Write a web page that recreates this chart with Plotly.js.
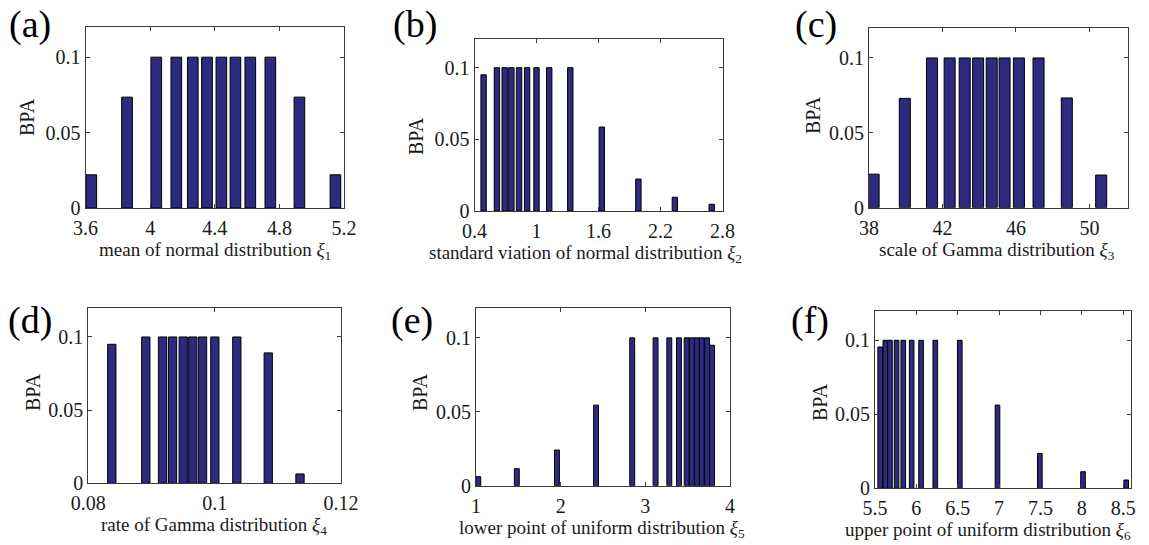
<!DOCTYPE html>
<html>
<head>
<meta charset="utf-8">
<script src="https://cdn.plot.ly/plotly-3.0.1.min.js"></script>
<style>
  html, body { margin: 0; padding: 0; background: #ffffff; }
  #chart { width: 1149px; height: 545px; }
</style>
</head>
<body>
<div id="chart"></div>
<script>
// BPA of the focal elements for each uncertain parameter

// (a) mean of normal distribution xi_1
const xiMean  = [3.636, 3.857, 4.038, 4.162, 4.264, 4.352, 4.441, 4.528, 4.620, 4.744, 4.924, 5.147];
const bpaMean = [0.022, 0.0735, 0.1, 0.1, 0.1, 0.1, 0.1, 0.1, 0.1, 0.1, 0.0735, 0.022];
const ticksMean = [3.6, 4, 4.4, 4.8, 5.2];
const labelsMean = ["3.6", "4", "4.4", "4.8", "5.2"];

// (b) standard deviation of normal distribution xi_2
const xiStd  = [0.488, 0.617, 0.692, 0.757, 0.831, 0.909, 1.000, 1.123, 1.327, 1.632, 1.986, 2.339, 2.696];
const bpaStd = [0.095, 0.1, 0.1, 0.1, 0.1, 0.1, 0.1, 0.1, 0.1, 0.0586, 0.0223, 0.0096, 0.0047];
const ticksStd = [0.4, 1, 1.6, 2.2, 2.8];
const labelsStd = ["0.4", "1", "1.6", "2.2", "2.8"];

// (c) scale of Gamma distribution xi_3
const xiScale  = [38.25, 39.95, 41.43, 42.39, 43.21, 43.94, 44.68, 45.38, 46.16, 47.23, 48.77, 50.64];
const bpaScale = [0.0224, 0.073, 0.1, 0.1, 0.1, 0.1, 0.1, 0.1, 0.1, 0.1, 0.0733, 0.0218];
const ticksScale = [38, 42, 46, 50];
const labelsScale = ["38", "42", "46", "50"];

// (d) rate of Gamma distribution xi_4
const xiRate  = [0.08372, 0.08910, 0.09175, 0.09333, 0.09502, 0.09654, 0.09808, 0.10003, 0.10351, 0.10848, 0.11351];
const bpaRate = [0.095, 0.1, 0.1, 0.1, 0.1, 0.1, 0.1, 0.1, 0.1, 0.0891, 0.0064];
const ticksRate = [0.08, 0.1, 0.12];
const labelsRate = ["0.08", "0.1", "0.12"];

// (e) lower point of uniform distribution xi_5
const xiLower  = [1.027, 1.482, 1.956, 2.418, 2.845, 3.121, 3.283, 3.397, 3.488, 3.551, 3.610, 3.666, 3.729, 3.788];
const bpaLower = [0.0061, 0.0115, 0.0241, 0.0545, 0.1, 0.1, 0.1, 0.1, 0.1, 0.1, 0.1, 0.1, 0.1, 0.095];
const ticksLower = [1, 2, 3, 4];
const labelsLower = ["1", "2", "3", "4"];

// (f) upper point of uniform distribution xi_6
const xiUpper  = [5.563, 5.625, 5.681, 5.761, 5.842, 5.943, 6.057, 6.229, 6.525, 6.981, 7.493, 8.015, 8.537];
const bpaUpper = [0.0955, 0.1, 0.1, 0.1, 0.1, 0.1, 0.1, 0.1, 0.1, 0.0562, 0.0236, 0.0112, 0.0056];
const ticksUpper = [5.5, 6, 6.5, 7, 7.5, 8, 8.5];
const labelsUpper = ["5.5", "6", "6.5", "7", "7.5", "8", "8.5"];

// shared y axis ticks
const bpaTicks = [0, 0.05, 0.1];
const bpaLabels = ["0", "0.05", "0.1"];

const W = 1149, H = 545;
const px = v => v / W;
const py = v => 1 - v / H;

const SERIF = "Liberation Serif, Times New Roman, serif";
const BAR_FILL = "#2d2a80";

// panel geometry in pixels: plot box [left, right, top, bottom], bar width (data units),
// x range, axis-title and panel-letter positions
const panels = [
  { x: xiMean,  y: bpaMean,  tv: ticksMean,  tt: labelsMean,  box: [85.5, 344, 27, 208],     range: [3.6, 5.2],   bw: 0.066,
    title: "mean of normal distribution <i>ξ</i><sub>1</sub>", tx: 215, yx: 27, yy: 117, tag: "(a)", gx: 30, gy: 25 },
  { x: xiStd,   y: bpaStd,   tv: ticksStd,   tt: labelsStd,   box: [474.5, 722.5, 39, 211],  range: [0.4, 2.8],   bw: 0.052,
    title: "standard viation of normal distribution <i>ξ</i><sub>2</sub>", tx: 585, yx: 416, yy: 136, tag: "(b)", gx: 415, gy: 25 },
  { x: xiScale, y: bpaScale, tv: ticksScale, tt: labelsScale, box: [869, 1128, 28, 207.7],   range: [38, 52.1],   bw: 0.6,
    title: "scale of Gamma distribution <i>ξ</i><sub>3</sub>", tx: 997, yx: 813, yy: 115, tag: "(c)", gx: 816, gy: 25 },
  { x: xiRate,  y: bpaRate,  tv: ticksRate,  tt: labelsRate,  box: [88.3, 341, 307.7, 483.3], range: [0.08, 0.12], bw: 0.00131,
    title: "rate of Gamma distribution <i>ξ</i><sub>4</sub>", tx: 214, yx: 33, yy: 392, tag: "(d)", gx: 30, gy: 320 },
  { x: xiLower, y: bpaLower, tv: ticksLower, tt: labelsLower, box: [476, 730, 308.3, 485.7], range: [1, 4],       bw: 0.058,
    title: "lower point of uniform distribution <i>ξ</i><sub>5</sub>", tx: 602, yx: 420, yy: 392, tag: "(e)", gx: 412, gy: 320 },
  { x: xiUpper, y: bpaUpper, tv: ticksUpper, tt: labelsUpper, box: [875, 1131, 310.7, 488.3], range: [5.5, 8.595], bw: 0.056,
    title: "upper point of uniform distribution <i>ξ</i><sub>6</sub>", tx: 988, yx: 820, yy: 402, tag: "(f)", gx: 810, gy: 320 }
];

const traces = [];
const layout = {
  width: W, height: H,
  margin: { l: 0, r: 0, t: 0, b: 0 },
  paper_bgcolor: "#ffffff",
  plot_bgcolor: "#ffffff",
  showlegend: false,
  bargap: 0,
  font: { family: SERIF, size: 20, color: "#1a1a1a" },
  annotations: []
};

const axisStyle = {
  showline: true, mirror: "ticks", linecolor: "#3a3a3a", linewidth: 1,
  ticks: "inside", ticklen: 4, tickcolor: "#3a3a3a", tickwidth: 1,
  showgrid: false, zeroline: false, fixedrange: true,
  tickfont: { family: SERIF, size: 20, color: "#1a1a1a" }
};

panels.forEach((p, i) => {
  const n = i + 1;
  const xa = "x" + (n === 1 ? "" : n);
  const ya = "y" + (n === 1 ? "" : n);
  traces.push({
    type: "bar", x: p.x, y: p.y, width: p.bw,
    xaxis: xa, yaxis: ya,
    marker: { color: BAR_FILL, line: { color: "#000000", width: 1 } },
    hoverinfo: "x+y"
  });
  layout["xaxis" + (n === 1 ? "" : n)] = Object.assign({}, axisStyle, {
    domain: [px(p.box[0]), px(p.box[1])], anchor: ya, range: p.range,
    tickmode: "array", tickvals: p.tv, ticktext: p.tt, ticklabelstandoff: 2
  });
  layout["yaxis" + (n === 1 ? "" : n)] = Object.assign({}, axisStyle, {
    domain: [py(p.box[3]), py(p.box[2])], anchor: xa, range: [0, 0.12],
    tickmode: "array", tickvals: bpaTicks, ticktext: bpaLabels
  });
  layout.annotations.push(
    // x-axis title, hung just below the tick labels
    { xref: "paper", yref: "paper", x: px(p.tx), y: py(p.box[3] + 30), xanchor: "center", yanchor: "top",
      text: p.title, showarrow: false, borderpad: 0, font: { family: SERIF, size: 19, color: "#1a1a1a" } },
    { xref: "paper", yref: "paper", x: px(p.yx), y: py(p.yy), xanchor: "center", yanchor: "middle",
      text: "BPA", textangle: -90, showarrow: false, font: { family: SERIF, size: 20, color: "#1a1a1a" } },
    { xref: "paper", yref: "paper", x: px(p.gx), y: py(p.gy), xanchor: "center", yanchor: "middle",
      text: p.tag, showarrow: false, font: { family: SERIF, size: 38, color: "#000000" } }
  );
});

Plotly.newPlot("chart", traces, layout, { displayModeBar: false, staticPlot: true });
</script>
</body>
</html>
